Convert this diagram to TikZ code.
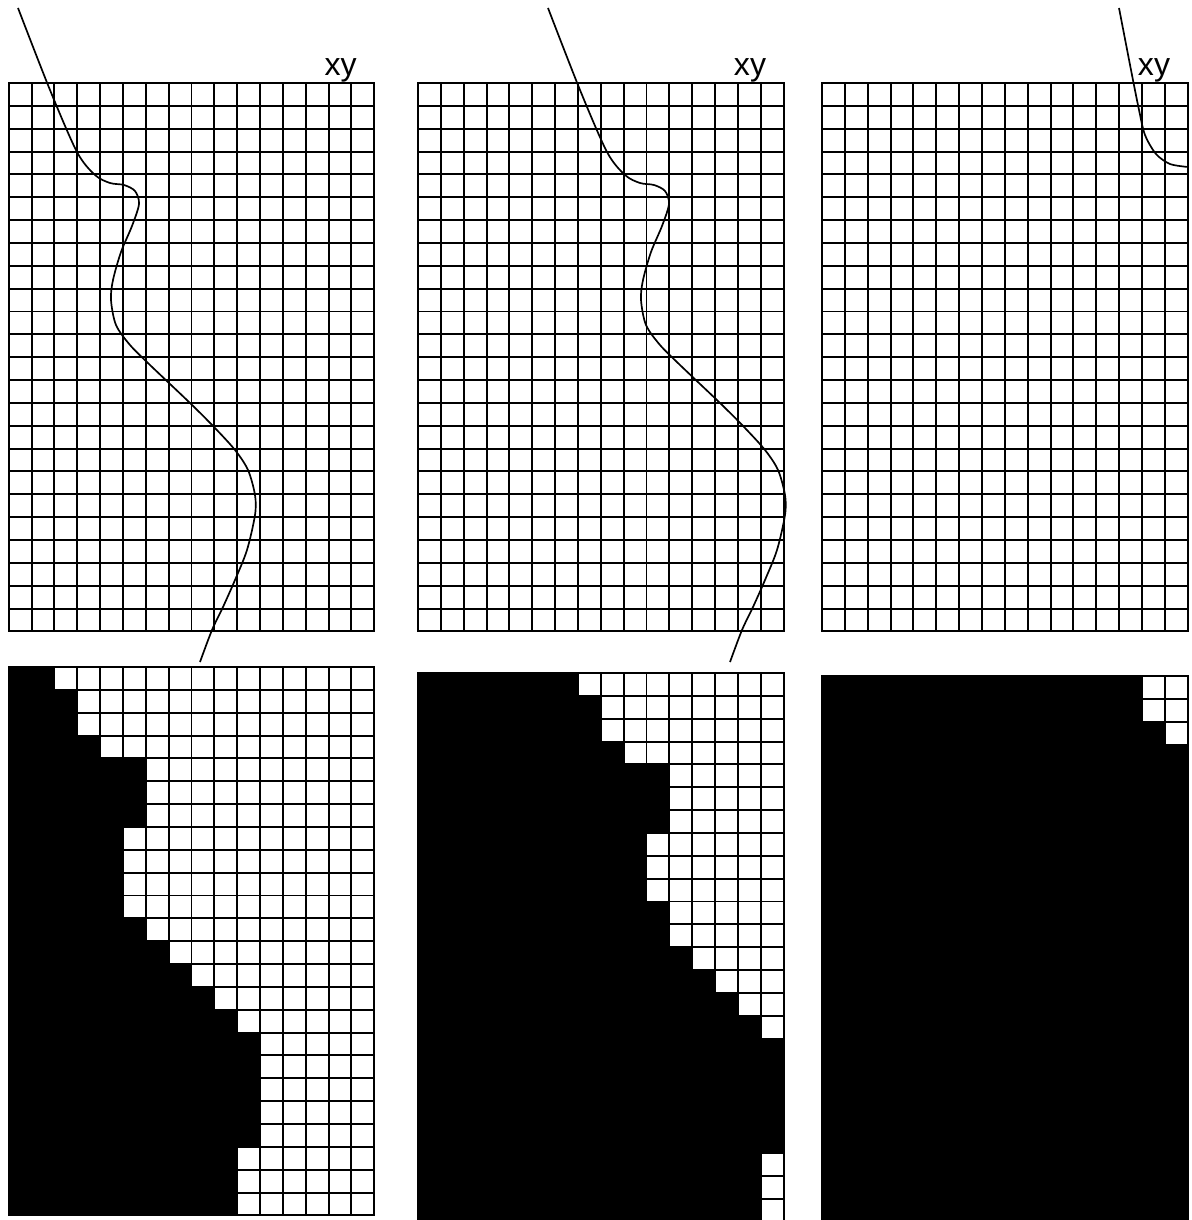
\documentclass[tikz,border=0pt]{standalone}
\usepackage{fontspec}
\setmainfont{Liberation Sans}
\tikzset{
  cellline/.style={line width=1.4pt, draw=black, line cap=rect},
  trace/.style={line width=1.2pt, draw=black},
  xylabel/.style={font=\fontsize{22.8}{27}\selectfont, anchor=base, inner sep=0pt},
  maskfill/.style={fill=black}
}
\newcommand{\cellsize}{22.85}
\newcommand{\gridpanel}[2]{%
  \foreach \i in {0,...,16}
    \draw[cellline] ({#1+\i*\cellsize},#2) -- ({#1+\i*\cellsize},{#2+24*\cellsize});
  \foreach \j in {0,...,24}
    \draw[cellline] (#1,{#2+\j*\cellsize}) -- ({#1+16*\cellsize},{#2+\j*\cellsize});
}
\newcommand{\maskrows}[3]{%
  \foreach \k [count=\r from 0] in {#3}
    \fill[maskfill] (#1,{#2+\r*\cellsize}) rectangle ({#1+\k*\cellsize},{#2+(\r+1)*\cellsize});
}

\begin{document}
\begin{tikzpicture}[x=0.025cm, y=-0.025cm]
  \useasboundingbox (0,0) rectangle (1191,1220);
  \clip (0,0) rectangle (1191,1220);

  % top row: plain grids
  \gridpanel{8.7}{83}
  \gridpanel{418}{83}
  \gridpanel{822}{83}
  \node[xylabel] (xyleft) at (340.7,76) {xy};
  \node[xylabel] (xymid) at (750,76) {xy};
  \node[xylabel] (xyright) at (1154,76) {xy};

  % the traced contour, same shape twice
  \foreach \sx in {0,530}
    \draw[trace, shift={(\sx,0)}] plot[smooth, tension=0.5] coordinates {
      (18,8) (50,90) (77,152) (95,175) (110,183) (124,185) (135,191)
      (139,204) (132,226) (121,252) (113,280) (111,300) (116,325)
      (130,345) (150,365) (190,403) (214,427) (235,450)
      (248,470) (255,495) (255,515) (247,550) (235,580)
      (223,607) (212,630) (200,662)};
  \draw[trace] plot[smooth, tension=0.5] coordinates {
    (1119,8) (1131,70) (1139,110) (1145,135) (1156,154)
    (1170,164) (1188,167)};

  % bottom row: filled cells
  \maskrows{8.7}{667}{2,3,3,4,6,6,6,5,5,5,5,6,7,8,9,10,11,11,11,11,11,10,10,10}
  \gridpanel{8.7}{667}
  \maskrows{418}{673}{7,8,8,9,11,11,11,10,10,10,11,11,12,13,14,15,16,16,16,16,16,15,15,15}
  \gridpanel{418}{673}
  \maskrows{822}{676}{14,14,15,16,16,16,16,16,16,16,16,16,16,16,16,16,16,16,16,16,16,16,16,16}
  \gridpanel{822}{676}
\end{tikzpicture}
\end{document}
